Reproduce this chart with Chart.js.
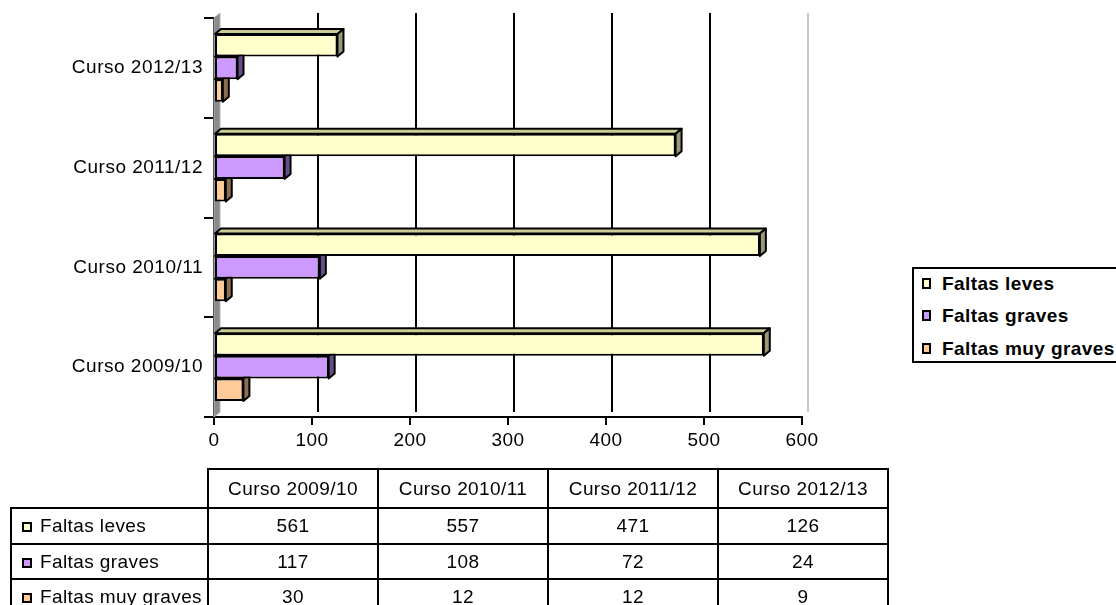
<!DOCTYPE html>
<html>
<head>
<meta charset="utf-8">
<script src="https://cdn.jsdelivr.net/npm/chart.js@4/dist/chart.umd.min.js"></script>
<style>
body { margin: 0; background: #fff; font-family: "Liberation Sans", Arial, sans-serif; color: #000; }
#wrap { position: relative; width: 1116px; height: 605px; overflow: hidden; }
#c { position: absolute; left: 0; top: 0; }
#legend { position: absolute; left: 912px; top: 267px; width: 230px; height: 92px; border: 2px solid #000; background: #fff; }
#legend div { position: absolute; left: 8px; font-weight: bold; font-size: 19px; letter-spacing: 0.4px; line-height: 20px; white-space: nowrap; }
.mk { display: inline-block; width: 5px; height: 7px; border: 2px solid #000; margin-right: 11px; vertical-align: 1px; }
#tbl { position: absolute; left: 10px; top: 468px; border-collapse: collapse; table-layout: fixed; font-size: 19px; letter-spacing: 0.4px; }
#tbl td { border: 2px solid #000; text-align: center; padding: 0; white-space: nowrap; }
#tbl td.lab { text-align: left; padding-left: 10px; }
#tbl td.lab .mk { width: 6px; height: 6px; margin-right: 8px; vertical-align: 0; }
#tbl td.empty { border-top: none; border-left: none; }
</style>
</head>
<body>
<div id="wrap">
  <canvas id="c" width="1116" height="605"></canvas>
  <div id="legend"></div>
  <table id="tbl"></table>
</div>
<script>
// datos
var categories = ['Curso 2009/10', 'Curso 2010/11', 'Curso 2011/12', 'Curso 2012/13'];
var seriesNames = ['Faltas leves', 'Faltas graves', 'Faltas muy graves'];
var faltasLeves = [561, 557, 471, 126];
var faltasGraves = [117, 108, 72, 24];
var faltasMuyGraves = [30, 12, 12, 9];
var xTicks = [0, 100, 200, 300, 400, 500, 600];

var seriesData = [faltasLeves, faltasGraves, faltasMuyGraves];
var frontColors = ['#ffffcc', '#cc99ff', '#ffcc99'];
var topColors = ['#cccc99', '#a080cc', '#ccaa80'];
var sideColors = ['#99997a', '#664c88', '#8c6e52'];
var dx = 6, dy = 5;

function poly(ctx, pts, fill) {
    ctx.beginPath();
    ctx.moveTo(pts[0][0], pts[0][1]);
    for (var i = 1; i < pts.length; i++) ctx.lineTo(pts[i][0], pts[i][1]);
    ctx.closePath();
    ctx.fillStyle = fill;
    ctx.fill();
    ctx.stroke();
}

// un poco de espacio entre letras, como en el original
var spacing = {
    id: 'spacing',
    beforeInit(chart) { chart.ctx.letterSpacing = '0.5px'; },
    beforeDraw(chart) { chart.ctx.letterSpacing = '0.5px'; }
};

// paredes, rejilla del fondo y caras 3D de las barras
var bars3d = {
    id: 'bars3d',
    beforeDatasetsDraw(chart) {
        var ctx = chart.ctx, a = chart.chartArea, xs = chart.scales.x;
        ctx.save();
        ctx.lineJoin = 'round';
        // pared izquierda
        ctx.strokeStyle = '#b0b0b0';
        ctx.lineWidth = 1;
        poly(ctx, [[a.left, a.top], [a.left + dx, a.top - dy], [a.left + dx, a.bottom - dy], [a.left, a.bottom]], '#8a8a8a');
        // rejilla
        xs.ticks.forEach(function (t, i) {
            var x = xs.getPixelForValue(t.value) + dx;
            if (i == 0) return;
            ctx.beginPath();
            ctx.moveTo(x, a.top - dy);
            ctx.lineTo(x, a.bottom - dy);
            ctx.lineWidth = 2;
            ctx.strokeStyle = (i == xs.ticks.length - 1) ? '#c8c8c8' : '#000';
            ctx.stroke();
        });
        ctx.strokeStyle = '#000';
        ctx.lineWidth = 2;
        chart.data.datasets.forEach(function (ds, i) {
            chart.getDatasetMeta(i).data.forEach(function (bar) {
                var p = bar.getProps(['x', 'y', 'base', 'height'], true);
                var top = p.y - p.height / 2, bot = p.y + p.height / 2;
                poly(ctx, [[p.base, top], [p.base + dx, top - dy], [p.x + dx, top - dy], [p.x, top]], topColors[i]);
                poly(ctx, [[p.x, top], [p.x + dx, top - dy], [p.x + dx, bot - dy], [p.x, bot]], sideColors[i]);
            });
        });
        ctx.restore();
    }
};

var ctx = document.getElementById('c').getContext('2d');
var chart = new Chart(ctx, {
    type: 'bar',
    data: {
        labels: categories.slice().reverse(),
        datasets: seriesNames.map(function (name, i) {
            return {
                label: name,
                data: seriesData[i].slice().reverse(),
                backgroundColor: frontColors[i],
                borderColor: '#000',
                borderWidth: 2,
                borderSkipped: false,
                categoryPercentage: 0.68,
                barPercentage: 1.0
            };
        })
    },
    options: {
        indexAxis: 'y',
        responsive: false,
        animation: false,
        layout: { padding: { left: 0, right: 314, top: 18, bottom: 148 } },
        plugins: { legend: { display: false }, tooltip: { enabled: false } },
        scales: {
            x: {
                min: 0,
                max: 600,
                afterBuildTicks: function (axis) {
                    axis.ticks = xTicks.map(function (v) { return { value: v }; });
                },
                afterFit: function (axis) { axis.height = 40; },
                grid: { drawOnChartArea: false, drawTicks: true, tickLength: 8, color: '#000', lineWidth: 2 },
                border: { display: true, color: '#000', width: 2 },
                ticks: { color: '#000', padding: 4, maxRotation: 0, font: { family: 'Liberation Sans', size: 19 } }
            },
            y: {
                afterFit: function (axis) { axis.width = 214; },
                grid: { drawOnChartArea: false, drawTicks: true, tickLength: 10, color: '#000', lineWidth: 2 },
                border: { display: true, color: '#000', width: 2 },
                ticks: { color: '#000', padding: 1, font: { family: 'Liberation Sans', size: 19 } }
            }
        }
    },
    plugins: [spacing, bars3d]
});

// leyenda
var legend = document.getElementById('legend');
var legendTops = [5, 37, 70];
seriesNames.forEach(function (name, i) {
    var d = document.createElement('div');
    d.style.top = legendTops[i] + 'px';
    d.innerHTML = '<span class="mk" style="background:' + frontColors[i] + '"></span>' + name;
    legend.appendChild(d);
});

// tabla de datos
var tbl = document.getElementById('tbl');
var colWidths = [197, 170, 170, 170, 170];
var cg = '<colgroup>' + colWidths.map(function (w) { return '<col style="width:' + w + 'px">'; }).join('') + '</colgroup>';
var html = cg + '<tr style="height:39px"><td class="empty"></td>';
categories.forEach(function (c) { html += '<td>' + c + '</td>'; });
html += '</tr>';
var rowHeights = [36, 35, 35];
seriesNames.forEach(function (name, i) {
    html += '<tr style="height:' + rowHeights[i] + 'px"><td class="lab"><span class="mk" style="background:' + frontColors[i] + '"></span>' + name + '</td>';
    seriesData[i].forEach(function (v) { html += '<td>' + v + '</td>'; });
    html += '</tr>';
});
tbl.innerHTML = html;
</script>
</body>
</html>
